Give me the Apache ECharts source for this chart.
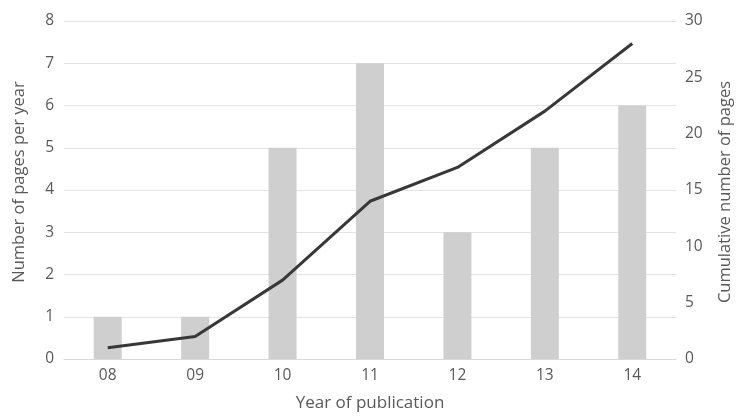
<!DOCTYPE html>
<html><head><meta charset="utf-8">
<script src="https://cdn.jsdelivr.net/npm/echarts@6/dist/echarts.min.js"></script>
<style>html,body{margin:0;padding:0;background:#fff}#c{width:742px;height:417px}</style>
</head><body><div id="c"></div>
<script>
const categories = ['08','09','10','11','12','13','14'];
const pagesPerYear = [1,1,5,7,3,5,6];
const cumulativePages = [1,2,7,14,17,22,28];
const font = 'Open Sans';
const txt = '#595959';
const chart = echarts.init(document.getElementById('c'));
chart.setOption({
  animation:false,
  textStyle:{fontFamily:font},
  grid:{left:64,right:60,top:21,bottom:55},
  xAxis:{type:'category',data:categories,
    name:'Year of publication',nameLocation:'middle',nameGap:36,
    nameTextStyle:{color:txt,fontSize:17,fontFamily:font},
    axisLine:{lineStyle:{color:'#d9d9d9'}},axisTick:{show:false},
    axisLabel:{color:txt,fontSize:15.5,margin:9,fontFamily:font}},
  yAxis:[
    {type:'value',min:0,max:8,interval:1,
     name:'Number of pages per year',nameLocation:'middle',nameGap:36,
     nameTextStyle:{color:txt,fontSize:16.5,fontFamily:font,padding:[0,0,0,16]},
     axisLabel:{color:txt,fontSize:15.5,margin:10,fontFamily:font},
     splitLine:{lineStyle:{color:'#e3e3e3'}},axisLine:{show:false},axisTick:{show:false}},
    {type:'value',min:0,max:30,interval:5,position:'right',
     name:'Cumulative number of pages',nameLocation:'middle',nameGap:41,nameRotate:90,
     nameTextStyle:{color:txt,fontSize:16.5,fontFamily:font,padding:[0,4,0,0]},
     axisLabel:{color:txt,fontSize:15.5,margin:9,fontFamily:font},
     splitLine:{show:false},axisLine:{show:false},axisTick:{show:false}}
  ],
  series:[
    {type:'bar',data:pagesPerYear,barWidth:28,itemStyle:{color:'#cfcfcf'},yAxisIndex:0},
    {type:'line',data:cumulativePages,yAxisIndex:1,symbol:'none',
     lineStyle:{color:'#383838',width:3}}
  ]
});
</script></body></html>
